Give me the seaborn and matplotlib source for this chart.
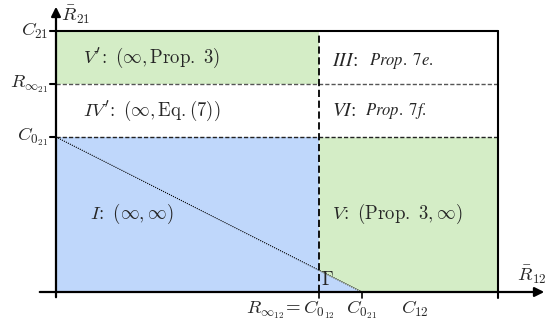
import numpy as np
import matplotlib.pyplot as plt
import seaborn as sns

sns.set_style("white")
plt.rcParams["mathtext.fontset"] = "cm"
plt.rcParams["font.family"] = ["DejaVu Serif"]

# region boundaries (abscissa / ordinate levels)
x_levels = [0.0, 2.63, 3.06, 4.42]      # 0, C0_12 (=R_inf12), C0_21, C12
y_levels = [0.0, 1.55, 2.08, 2.61]      # 0, C0_21, R_inf21, C21
y_labels = [r"$C_{0_{21}}$", r"$R_{\infty_{21}}$", r"$C_{21}$"]
x_labels = [r"$R_{\infty_{12}}\!=C_{0_{12}}$", r"$C_{0_{21}}$", r"$C_{12}$"]
x_label_pos = [2.34, 3.06, 3.59]

blue = "#bfd7fb"
green = "#d4edc6"

fig = plt.figure(figsize=(5.53, 3.21), dpi=100)
ax = fig.add_axes([0, 0, 1, 1])
ax.set_xlim(-0.56, 4.97)
ax.set_ylim(-0.29, 2.92)
ax.axis("off")

x0, xc, xd, xm = x_levels
y0, yc, yr, yt = y_levels

# diagonal C0_21 -> C0_21
xs = np.linspace(x0, xd, 200)
diag = yc * (1 - xs / xd)

# blue region I + Gamma
ax.fill_between([x0, xc], y0, yc, color=blue, lw=0)
xg = np.linspace(xc, xd, 50)
ax.fill_between(xg, y0, yc * (1 - xg / xd), color=blue, lw=0)
# green region V
xv = np.linspace(xc, xm, 200)
ax.fill_between(xv, np.clip(yc * (1 - xv / xd), 0, None), yc, color=green, lw=0)
# green region V'
ax.fill_between([x0, xc], yr, yt, color=green, lw=0)

# diagonal dotted
sns.lineplot(x=xs, y=diag, ax=ax, color="black", lw=0.8, linestyle=(0, (1, 1)))

# dashed separators
ax.plot([x0, xm], [yr, yr], color="#555555", lw=1.0, linestyle=(0, (3, 1.5)))
ax.plot([x0, xm], [yc, yc], color="#222222", lw=1.0, linestyle=(0, (3, 1.5)))
ax.plot([xc, xc], [y0, yt], color="black", lw=1.3, linestyle=(0, (4, 2)))

# box
ax.plot([x0, xm], [yt, yt], color="black", lw=1.5)
ax.plot([xm, xm], [-0.06, yt], color="black", lw=1.5)

# axes with arrows
ax.annotate("", xy=(4.91, 0), xytext=(-0.19, 0),
            arrowprops=dict(arrowstyle="-|>", color="black", lw=1.6, mutation_scale=14))
ax.annotate("", xy=(0, 2.88), xytext=(0, -0.08),
            arrowprops=dict(arrowstyle="-|>", color="black", lw=1.6, mutation_scale=14))

# ticks
for y in y_levels[1:]:
    ax.plot([-0.06, 0], [y, y], color="black", lw=1.5)
for x in x_levels[1:3]:
    ax.plot([x, x], [-0.06, 0], color="black", lw=1.2)

fs = 13.5
for y, lab in zip(y_levels[1:], y_labels):
    ax.text(-0.08, y, lab, ha="right", va="center", fontsize=fs)
for x, lab in zip(x_label_pos, x_labels):
    ax.text(x, -0.07, lab, ha="center", va="top", fontsize=fs)

ax.text(0.05, 2.77, r"$\bar{R}_{21}$", ha="left", va="center", fontsize=fs)
ax.text(4.61, 0.17, r"$\bar{R}_{12}$", ha="left", va="center", fontsize=fs)

# region labels
ax.text(0.27, 2.34, r"$V'\!\mathrm{:}\ (\infty,\mathrm{Prop.\ 3})$", fontsize=fs, va="center")
ax.text(0.27, 1.81, r"$IV'\!\mathrm{:}\ (\infty,\mathrm{Eq.(7)})$", fontsize=fs, va="center")
ax.text(0.34, 0.78, r"$I\!\mathrm{:}\ (\infty,\infty)$", fontsize=fs, va="center")
ax.text(2.76, 0.78, r"$V\!\mathrm{:}\ (\mathrm{Prop.\ 3},\infty)$", fontsize=fs, va="center")
ax.text(2.76, 2.31, r"$\mathit{III}\!:$", fontsize=14, va="center", math_fontfamily="stix")
ax.text(3.13, 2.31, r"$\mathit{Prop.\ 7e.}$", fontsize=12, va="center", math_fontfamily="stix")
ax.text(2.76, 1.81, r"$\mathit{VI}\!:$", fontsize=14, va="center", math_fontfamily="stix")
ax.text(3.09, 1.81, r"$\mathit{Prop.\ 7f.}$", fontsize=12, va="center", math_fontfamily="stix")
ax.text(2.65, 0.12, r"$\Gamma$", fontsize=fs, va="center")

fig.savefig("out.png", dpi=100)
